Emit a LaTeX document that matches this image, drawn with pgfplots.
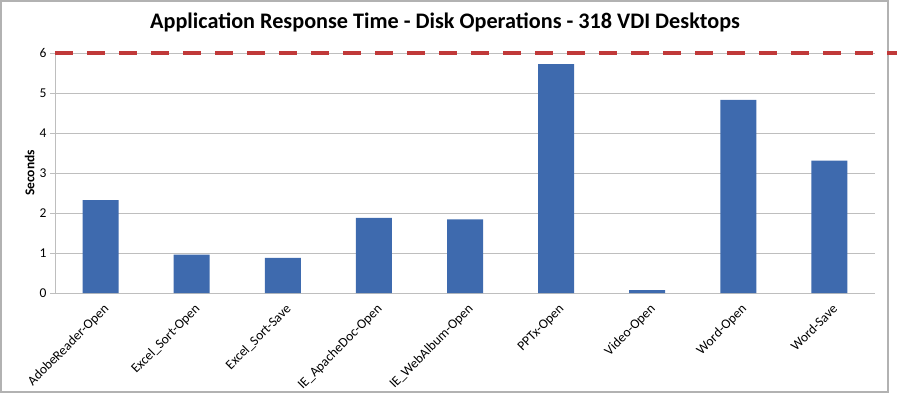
\documentclass[border=0pt]{standalone}
\usepackage{fontspec}
\setmainfont{Carlito}
\usepackage{pgfplots}
\pgfplotsset{compat=1.18}
\definecolor{barblue}{RGB}{62,106,174}
\definecolor{refred}{RGB}{192,57,57}
\definecolor{gridgray}{RGB}{190,190,190}
\begin{document}
\begin{tikzpicture}[x=1pt,y=1pt]
\useasboundingbox (-55,-101) rectangle (844,293);
\draw[gray!60, line width=1.2pt] (-54,-99) rectangle (833,292);
\node[font=\bfseries\fontsize{22.2}{26}\selectfont] at (390,271) {Application Response Time - Disk Operations - 318 VDI Desktops};
\begin{axis}[
  at={(0,0)}, anchor=south west, scale only axis,
  width=820pt, height=240pt,
  ymin=0, ymax=6, xmin=-0.5, xmax=8.5,
  clip=false,
  axis x line=bottom, axis y line=left,
  axis line style={-, gridgray, line width=0.8pt},
  ytick={0,1,...,6},
  ymajorgrids, grid style={gridgray, line width=0.8pt},
  xtick={0,...,8},
  xticklabels={AdobeReader-Open,Excel\_Sort-Open,Excel\_Sort-Save,IE\_ApacheDoc-Open,IE\_WebAlbum-Open,PPTx-Open,Video-Open,Word-Open,Word-Save},
  minor xtick={-0.5,0.5,...,8.5},
  xtick style={draw=none},
  minor x tick style={gridgray, line width=0.8pt},
  ytick style={gridgray, line width=0.8pt},
  major tick length=5pt, minor tick length=5pt,
  tick align=outside,
  xticklabel style={rotate=45, anchor=north east, font=\fontsize{13.5}{15}\selectfont, inner sep=2pt, yshift=-3pt},
  yticklabel style={font=\fontsize{13.5}{15}\selectfont},
  /pgf/number format/assume math mode=true,
  ylabel={\bfseries Seconds},
  ylabel style={at={(axis description cs:-0.031,0.5)}, anchor=center, font=\fontsize{13.5}{15}\selectfont},
]
\addplot[ybar, bar width=36pt, fill=barblue, draw=none] coordinates {
  (0,2.32) (1,0.96) (2,0.88) (3,1.88) (4,1.84) (5,5.72) (6,0.07) (7,4.83) (8,3.31)
};
\addplot[refred, line width=4pt, dash pattern=on 18pt off 14pt, mark=none] coordinates {(-0.5,6) (8.74,6)};
\end{axis}
\end{tikzpicture}
\end{document}
